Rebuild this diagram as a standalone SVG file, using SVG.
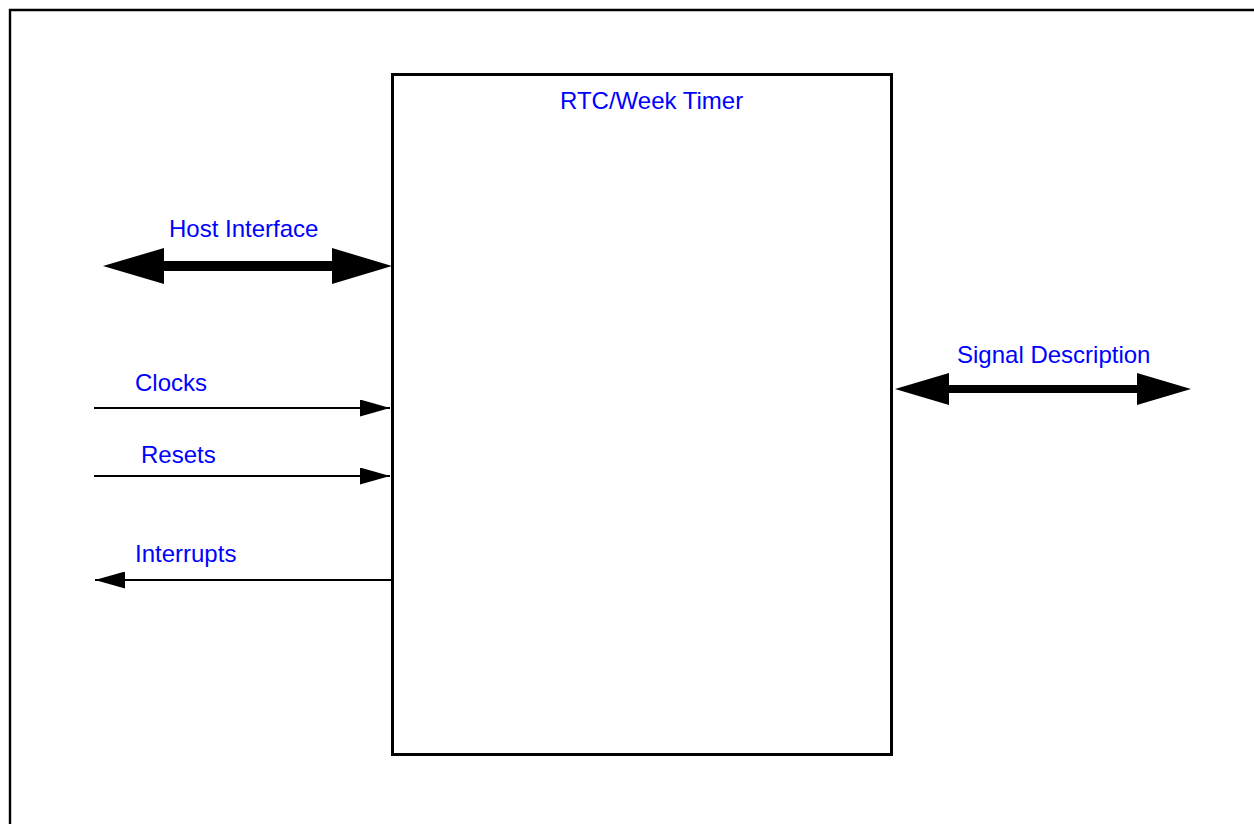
<svg xmlns="http://www.w3.org/2000/svg" width="1254" height="824" viewBox="0 0 1254 824">
<style>
.lbl{font-family:"Liberation Sans",Arial,sans-serif;font-size:24px;fill:#0000ff}
.thin{stroke:#000;stroke-width:2;fill:none}
.thick{fill:#000}
</style>
<defs>
<marker id="ah" markerWidth="30" markerHeight="17" refX="30" refY="8.5" orient="auto" markerUnits="userSpaceOnUse">
<path d="M0,0 L30,8.5 L0,17 Z" fill="#000"/>
</marker>
</defs>
<rect x="0" y="0" width="1254" height="824" fill="#fff"/>
<path d="M10,824 L10,10 L1254,10" fill="none" stroke="#000" stroke-width="2.4"/>
<g id="rtc">
<rect x="392.5" y="74.5" width="499" height="680" fill="none" stroke="#000" stroke-width="3"/>
<text class="lbl" x="560" y="109">RTC/Week Timer</text>
</g>
<g id="connectors">
<g id="host">
<path class="thick" d="M103,266 L164,248 L164,261 L332,261 L332,248 L392,266 L332,284 L332,271 L164,271 L164,284 Z"/>
<text class="lbl" x="169" y="237">Host Interface</text>
</g>
<g id="signal">
<path class="thick" d="M895,389 L949,373 L949,385 L1137,385 L1137,373 L1191,389 L1137,405 L1137,393 L949,393 L949,405 Z"/>
<text class="lbl" x="957" y="363">Signal Description</text>
</g>
<g id="clocks">
<line class="thin" x1="94" y1="408" x2="390" y2="408" marker-end="url(#ah)"/>
<text class="lbl" x="135" y="391">Clocks</text>
</g>
<g id="resets">
<line class="thin" x1="94" y1="476" x2="390" y2="476" marker-end="url(#ah)"/>
<text class="lbl" x="141" y="463">Resets</text>
</g>
<g id="interrupts">
<line class="thin" x1="392" y1="580" x2="95" y2="580" marker-end="url(#ah)"/>
<text class="lbl" x="135" y="562">Interrupts</text>
</g>
</g>
</svg>
